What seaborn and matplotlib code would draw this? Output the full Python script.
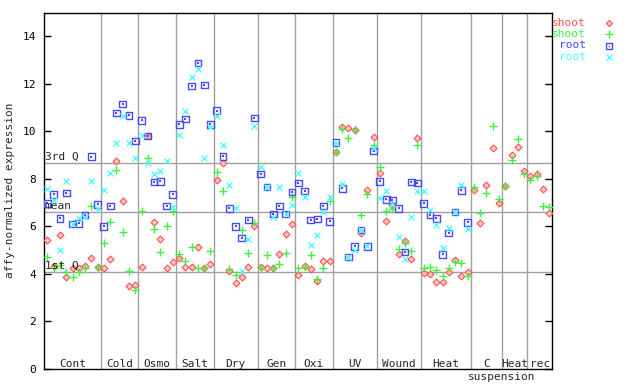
import matplotlib
matplotlib.use("Agg")
import matplotlib.pyplot as plt
import numpy as np
import pandas as pd
import seaborn as sns

# stress groups and the number of samples in each
groups = ["Cont", "Cold", "Osmo", "Salt", "Dry", "Gen", "Oxi", "UV",
          "Wound", "Heat", "C", "Heat", "rec"]
group_sizes = [9, 6, 6, 6, 7, 6, 6, 7, 7, 8, 5, 4, 4]

nan = np.nan
shoot_red = [5.41, 4.34, 5.62, 3.88, 4.22, 4.25, 4.32, 4.65, 4.3,
             4.23, 4.61, 8.75, 7.06, 3.47, 3.51,
             4.27, 9.8, 6.17, 5.46, 4.23, 4.49,
             4.65, 4.27, 4.27, 5.12, 4.23, 4.4,
             7.94, 8.66, 4.1, 3.6, 3.85, 4.27, 6.0,
             4.3, 4.23, 4.23, 4.82, 5.67, 6.09,
             3.94, 4.32, 4.19, 3.68, 4.53, 4.53,
             9.13, 10.2, 10.13, 10.05, 5.71, 7.52, 9.76,
             8.24, 6.21, 6.89, 4.82, 5.37, 4.61, 9.72,
             4.02, 3.98, 3.64, 3.64, 4.06, 4.57, 3.9, 4.06,
             7.52, 6.13, 7.73, 9.29, 6.97,
             7.69, 8.98, 9.33, 8.34,
             8.11, 8.2, 7.56, 6.55]
shoot_green = [4.7, 4.24, 4.36, 4.08, 3.88, 4.08, 4.24, 6.86, 4.28,
               5.29, 6.17, 8.37, 5.75, 4.1, 3.3,
               6.64, 8.87, 5.88, 4.91, 6.0, 6.64,
               4.82, 4.52, 5.12, 4.23, 4.23, 4.95,
               8.28, 7.48, 4.19, 3.94, 5.84, 4.87, 6.13,
               4.23, 4.78, 4.23, 4.4, 4.87, 7.23,
               4.23, 4.27, 4.78, 3.77, 4.23, 7.06,
               9.13, 10.1, 9.72, 10.05, 6.47, 7.35, 9.42,
               8.49, 6.64, 6.72, 5.02, 5.3, 4.95, 9.42,
               4.23, 4.27, 4.15, 3.9, 4.23, 4.49, 4.44, 3.9,
               7.65, 6.55, 7.4, 10.22, 7.14,
               7.69, 8.79, 9.67, 8.2,
               7.94, 8.11, 6.85, 6.8]
root_blue = [6.97, 7.35, 6.34, 7.4, 6.09, 6.13, 6.47, 8.93, 6.93,
             6.0, 6.85, 10.77, 11.15, 10.68, 9.59,
             10.47, 9.8, 7.86, 7.9, 6.85, 7.35,
             10.3, 10.52, 11.91, 12.88, 11.95, 10.3,
             10.86, 8.95, 6.76, 6.0, 5.5, 6.26, 10.56,
             8.2, 7.65, 6.51, 6.85, 6.51, 7.44,
             7.82, 7.48, 6.26, 6.3, 6.85, 6.21,
             9.51, 7.6, 4.7, 5.16, 5.84, 5.16, 9.17,
             7.9, 7.14, 7.1, 6.76, 4.91, 7.86, 7.82,
             6.97, 6.47, 6.34, 4.82, 5.71, 6.6, 7.52, 6.17] + [nan] * 13
root_cyan = [7.58, 7.1, 5.0, 7.9, 6.1, 6.34, 6.39, 7.9, 6.72,
             7.52, 8.24, 9.51, 10.64, 9.51, 8.87,
             9.84, 8.66, 8.2, 8.32, 8.75, 6.8,
             9.84, 10.86, 12.29, 12.63, 8.87, 10.18,
             10.64, 9.42, 7.73, 6.76, 4.13, 5.46, 10.22,
             8.49, 7.65, 6.38, 7.65, 6.51, 6.89,
             8.24, 7.23, 5.2, 5.62, 6.6, 7.23,
             9.51, 7.77, 4.7, 4.99, 5.84, 5.16, 9.3,
             7.18, 7.48, 6.95, 5.54, 4.61, 6.38, 7.5,
             7.49, 6.68, 6.05, 5.08, 5.92, 6.6, 7.73, 5.88] + [nan] * 13

quart_names = ["1st Q", "mean", "3rd Q"]
quart_values = [4.06, 6.6, 8.67]

RED, GREEN, BLUE, CYAN = "#ff5050", "#40f040", "#4848ff", "#50ffff"
GRAY = "#a0a0a0"

sns.set_style("white")
plt.rcParams["font.family"] = ["DejaVu Sans Mono"]

n = len(shoot_red)
df = pd.DataFrame({
    "pos": np.arange(n),
    "shoot_red": shoot_red,
    "shoot_green": shoot_green,
    "root_blue": root_blue,
    "root_cyan": root_cyan,
})

fig = plt.figure(figsize=(6.4, 3.84), dpi=100)
ax = fig.add_axes([44.3 / 640, 15.4 / 384, 508 / 640, 356 / 384])

bounds = np.cumsum(group_sizes) - 0.5
for b in bounds[:-1]:
    ax.axvline(b, color=GRAY, lw=1, zorder=1)
for q in quart_values:
    ax.axhline(q, color=GRAY, lw=1, zorder=1)

sns.scatterplot(data=df, x="pos", y="shoot_red", marker="D", s=12,
                color=RED, linewidth=0.8, ax=ax, zorder=3)
ax.collections[-1].set_facecolor("#ffc8c8")
ax.collections[-1].set_edgecolor(RED)
sns.scatterplot(data=df, x="pos", y="shoot_green", marker="+", s=32,
                color=GREEN, linewidth=1.0, ax=ax, zorder=3)
sns.scatterplot(data=df, x="pos", y="root_blue", marker="s", s=24,
                color=BLUE, linewidth=1.0, ax=ax, zorder=3)
ax.collections[-1].set_facecolor("none")
ax.collections[-1].set_edgecolor(BLUE)
sns.scatterplot(data=df, x="pos", y="root_blue", marker="s", s=1.2,
                color=BLUE, linewidth=0, ax=ax, zorder=3)
sns.scatterplot(data=df, x="pos", y="root_cyan", marker="x", s=18,
                color=CYAN, linewidth=1.0, ax=ax, zorder=4)

ax.set_xlim(-0.5, n - 0.5)
ax.set_ylim(0, 15)
ax.set_xticks([])
ax.set_yticks(range(0, 15, 2))
ax.tick_params(axis="y", direction="in", length=5, width=1, pad=6,
               labelsize=8, right=True, left=True, colors="black")
ax.set_xlabel("")
ax.set_ylabel("affy-normalized expression", fontsize=8)
ax.yaxis.set_label_coords(-0.058, 0.5)
for sp in ax.spines.values():
    sp.set_color("black")
    sp.set_linewidth(1)

for name, q in zip(quart_names, quart_values):
    ax.text(-0.45, q + 0.05, name, fontsize=8, ha="left", va="bottom")

starts = np.concatenate([[-0.5], bounds[:-1]])
for name, s0, s1 in zip(groups, starts, bounds):
    ax.text((s0 + s1) / 2, 0.2, name, fontsize=8, ha="center", va="center")
ax.text(bounds[10], -0.34, "suspension", fontsize=8, ha="center",
        va="center", clip_on=False)

legend = [("shoot", RED, "D"), ("shoot", GREEN, "+"),
          ("root", BLUE, "s"), ("root", CYAN, "x")]
for i, (lab, col, mk) in enumerate(legend):
    yy = 1 - (23.3 + i * 11.1) / 384
    fig.text(586 / 640, yy, lab, color=col, fontsize=8, ha="right", va="center")
    if mk == "D":
        fig.lines.append(plt.Line2D([609.3 / 640], [yy], marker="D", ms=3.2,
                                    mfc="#ffc8c8", mec=col, mew=0.8, ls="",
                                    transform=fig.transFigure))
    elif mk == "s":
        fig.lines.append(plt.Line2D([609.3 / 640], [yy], marker="s", ms=5,
                                    mfc="none", mec=col, mew=1, ls="",
                                    transform=fig.transFigure))
        fig.lines.append(plt.Line2D([609.3 / 640], [yy], marker="s", ms=1,
                                    mfc=col, mec=col, mew=0, ls="",
                                    transform=fig.transFigure))
    else:
        fig.lines.append(plt.Line2D([609.3 / 640], [yy], marker=mk,
                                    ms=5.5 if mk == "+" else 4.3, mec=col,
                                    mew=1, ls="", transform=fig.transFigure))

fig.savefig("out.png", dpi=100)
